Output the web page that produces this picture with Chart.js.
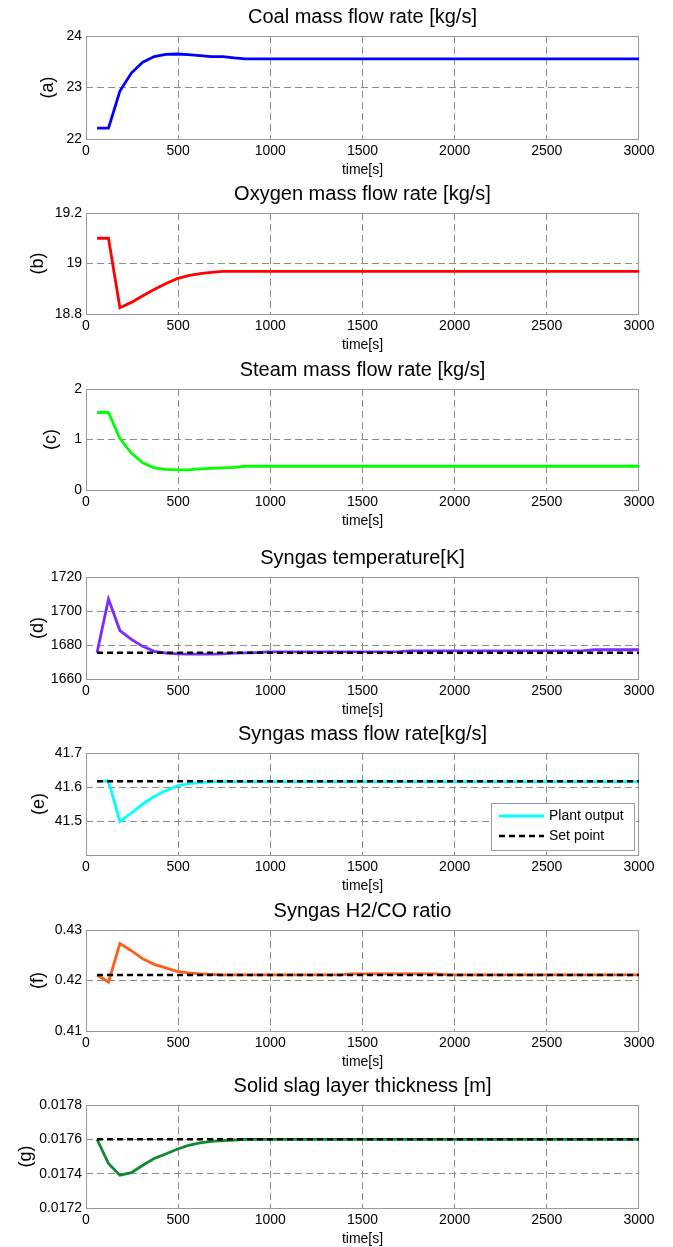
<!DOCTYPE html>
<html><head><meta charset="utf-8">
<script src="https://cdn.jsdelivr.net/npm/chart.js@4.4.0/dist/chart.umd.min.js"></script>
<style>
html,body{margin:0;padding:0;background:#fff;overflow:hidden;width:673px;height:1247px;}
canvas{position:absolute;left:0;}
</style></head><body>
<canvas id="ca"></canvas><canvas id="cb"></canvas><canvas id="cc"></canvas><canvas id="cd"></canvas>
<canvas id="ce"></canvas><canvas id="cf"></canvas><canvas id="cg"></canvas>
<script>
// ---------- data ----------
const timeTicks = [0, 500, 1000, 1500, 2000, 2500, 3000];
const setTime = [60, 3000];

const coalTime = [60,122,184,246,308,370,432,494,556,618,680,742,804,866,3000];
const coalFlow = [22.21,22.21,22.93,23.28,23.49,23.60,23.645,23.65,23.64,23.62,23.60,23.60,23.575,23.555,23.555];
const coalTicks = [22, 23, 24];

const oxyTime = [60,122,184,246,308,370,432,494,556,618,680,742,3000];
const oxyFlow = [19.1,19.1,18.825,18.846,18.872,18.897,18.92,18.94,18.952,18.96,18.965,18.969,18.969];
const oxyTicks = [18.8, 19, 19.2];

const steamTime = [60,122,184,246,308,370,432,494,556,618,680,742,804,866,3000];
const steamFlow = [1.535,1.535,1.02,0.73,0.54,0.44,0.41,0.40,0.40,0.42,0.43,0.44,0.45,0.47,0.47];
const steamTicks = [0, 1, 2];

const tempTime = [60,122,184,246,308,370,432,494,556,618,680,742,804,866,928,990,1700,1760,2700,2760,3000];
const tempOut = [1675.5,1707,1688.5,1683.3,1679.2,1676.3,1675.3,1674.8,1674.6,1674.6,1674.6,1674.8,1675.2,1675.4,1675.6,1676.0,1676.1,1676.6,1676.7,1677.2,1677.2];
const tempSet = [1675.4, 1675.4];
const tempTicks = [1660, 1680, 1700, 1720];

const synTime = [60,122,184,246,308,370,432,494,556,618,680,742,3000];
const synOut = [41.617,41.617,41.499,41.523,41.55,41.572,41.589,41.603,41.610,41.613,41.615,41.616,41.616];
const synSet = [41.617, 41.617];
const synTicks = [41.5, 41.6, 41.7];

const ratioTime = [60,122,184,246,308,370,432,494,556,618,680,742,1380,1440,1900,1960,3000];
const ratioOut = [0.4211,0.4197,0.4273,0.4259,0.4243,0.4232,0.4225,0.4218,0.4215,0.4213,0.4212,0.4211,0.4211,0.4213,0.4213,0.4211,0.4211];
const ratioSet = [0.4211, 0.4211];
const ratioTicks = [0.41, 0.42, 0.43];

const slagTime = [60,122,184,246,308,370,432,494,556,618,680,742,804,866,3000];
const slagOut = [0.0176,0.017459,0.017391,0.017406,0.017449,0.017488,0.017515,0.017542,0.017565,0.017579,0.017588,0.017592,0.017596,0.0176,0.0176];
const slagSet = [0.0176, 0.0176];
const slagTicks = [0.0172, 0.0174, 0.0176, 0.0178];

// ---------- helpers ----------
const FONT = '"Liberation Sans", Arial, Helvetica, sans-serif';
Chart.defaults.font.family = FONT;
Chart.defaults.color = '#000';
const GRID = '#8c8c8c';

const pts = (t, v) => t.map((x, i) => ({x: x, y: v[i]}));

const frame = {
  id: 'frame',
  beforeDatasetsDraw(chart) {
    const {ctx, chartArea: a} = chart;
    ctx.save();
    ctx.strokeStyle = '#9a9a9a';
    ctx.lineWidth = 1;
    const l = Math.round(a.left), t = Math.round(a.top), r = Math.round(a.right), b = Math.round(a.bottom);
    ctx.strokeRect(l + 0.5, t + 0.5, r - l - 1, b - t);
    ctx.restore();
  }
};

const legendBox = {
  id: 'legendBox',
  afterDatasetsDraw(chart, args, o) {
    if (!o || !o.show) return;
    const {ctx, chartArea: a} = chart;
    const w = 143, h = 47;
    const x = Math.round(a.right - 5 - w), y = Math.round(a.bottom - 5 - h);
    ctx.save();
    ctx.fillStyle = '#fff';
    ctx.fillRect(x, y, w, h);
    ctx.strokeStyle = '#9a9a9a';
    ctx.lineWidth = 1;
    ctx.strokeRect(x + 0.5, y + 0.5, w, h);
    chart.data.datasets.forEach((ds, i) => {
      const ly = y + 13 + i * 20;
      ctx.strokeStyle = ds.borderColor;
      ctx.lineWidth = ds.borderWidth;
      ctx.setLineDash(ds.borderDash || []);
      ctx.beginPath(); ctx.moveTo(x + 8, ly); ctx.lineTo(x + 53, ly); ctx.stroke();
      ctx.setLineDash([]);
      ctx.fillStyle = '#000';
      ctx.font = '14px ' + FONT;
      ctx.textBaseline = 'middle';
      ctx.fillText(ds.label, x + 58, ly);
    });
    ctx.restore();
  }
};

function fmt(v) { return String(+(+v).toFixed(5)); }

const panels = [
  {id: 'ca', plotTop: 36,  plotH: 103, title: 'Coal mass flow rate [kg/s]', ylab: '(a)', ylabX: 48,
   min: 22, max: 24, ticks: coalTicks,
   series: [{label: 'Coal', t: coalTime, v: coalFlow, color: '#0000ff'}]},
  {id: 'cb', plotTop: 213, plotH: 101, title: 'Oxygen mass flow rate [kg/s]', ylab: '(b)', ylabX: 38,
   min: 18.8, max: 19.2, ticks: oxyTicks,
   series: [{label: 'Oxygen', t: oxyTime, v: oxyFlow, color: '#ff0000'}]},
  {id: 'cc', plotTop: 389, plotH: 101, title: 'Steam mass flow rate [kg/s]', ylab: '(c)', ylabX: 51,
   min: 0, max: 2, ticks: steamTicks,
   series: [{label: 'Steam', t: steamTime, v: steamFlow, color: '#00ff00'}]},
  {id: 'cd', plotTop: 577, plotH: 102, title: 'Syngas temperature[K]', ylab: '(d)', ylabX: 38,
   min: 1660, max: 1720, ticks: tempTicks,
   series: [{label: 'Plant output', t: tempTime, v: tempOut, color: '#7a2cff'},
            {label: 'Set point', t: setTime, v: tempSet, color: '#000', dash: true}]},
  {id: 'ce', plotTop: 753, plotH: 102, title: 'Syngas mass flow rate[kg/s]', ylab: '(e)', ylabX: 39, legend: true,
   min: 41.4, max: 41.7, ticks: synTicks,
   series: [{label: 'Plant output', t: synTime, v: synOut, color: '#00ffff'},
            {label: 'Set point', t: setTime, v: synSet, color: '#000', dash: true}]},
  {id: 'cf', plotTop: 930, plotH: 101, title: 'Syngas H2/CO ratio', ylab: '(f)', ylabX: 38,
   min: 0.41, max: 0.43, ticks: ratioTicks,
   series: [{label: 'Plant output', t: ratioTime, v: ratioOut, color: '#ff5e1a'},
            {label: 'Set point', t: setTime, v: ratioSet, color: '#000', dash: true}]},
  {id: 'cg', plotTop: 1105, plotH: 103, title: 'Solid slag layer thickness [m]', ylab: '(g)', ylabX: 26,
   min: 0.0172, max: 0.0178, ticks: slagTicks,
   series: [{label: 'Plant output', t: slagTime, v: slagOut, color: '#108a2c'},
            {label: 'Set point', t: setTime, v: slagSet, color: '#000', dash: true}]}
];

function gridColor(min, max) {
  return c => (c.tick && (Math.abs(c.tick.value - min) < 1e-9 || Math.abs(c.tick.value - max) < 1e-9)) ? 'rgba(0,0,0,0)' : GRID;
}

panels.forEach(p => {
  const cv = document.getElementById(p.id);
  cv.width = 673;
  cv.height = 36 + p.plotH + 44;
  cv.style.top = (p.plotTop - 36) + 'px';
  const datasets = p.series.map(s => ({
    label: s.label,
    data: pts(s.t, s.v),
    borderColor: s.color,
    backgroundColor: s.color,
    borderWidth: s.dash ? 2.5 : 2.8,
    borderDash: s.dash ? [6, 4] : [],
    pointRadius: 0,
    tension: 0,
    fill: false,
    order: s.dash ? 0 : 1
  }));
  new Chart(cv, {
    type: 'line',
    data: {datasets},
    options: {
      responsive: false, animation: false, devicePixelRatio: 1,
      layout: {padding: {left: 0, right: 34, top: 0, bottom: 0}},
      plugins: {
        legend: {display: false},
        tooltip: {enabled: false},
        title: {display: true, text: p.title, fullSize: false, color: '#000',
                font: {size: 20, weight: 'normal', family: FONT}, padding: {top: 5, bottom: 7}},
        legendBox: {show: !!p.legend}
      },
      scales: {
        x: {
          type: 'linear', min: 0, max: 3000,
          afterBuildTicks: s => { s.ticks = timeTicks.map(v => ({value: v})); },
          afterFit: s => { s.height = 44; },
          ticks: {font: {size: 14}, padding: 4, maxRotation: 0, autoSkip: false, color: '#000', callback: v => String(v)},
          grid: {color: gridColor(0, 3000), drawTicks: false, lineWidth: 1},
          border: {display: false, dash: [7, 4]},
          title: {display: true, text: 'time[s]', color: '#000', font: {size: 14}, padding: {top: 0, bottom: 4}}
        },
        y: {
          type: 'linear', min: p.min, max: p.max,
          afterBuildTicks: s => { s.ticks = p.ticks.map(v => ({value: v})); },
          afterFit: s => { s.width = 86; },
          ticks: {font: {size: 14}, padding: 4, color: '#000', callback: v => fmt(v)},
          grid: {color: gridColor(p.min, p.max), drawTicks: false, lineWidth: 1},
          border: {display: false, dash: [7, 4]},
          title: {display: true, text: p.ylab, color: '#000', font: {size: 18}, padding: {top: p.ylabX - 10.8, bottom: 0}}
        }
      }
    },
    plugins: [frame, legendBox]
  });
});
</script>
</body></html>
